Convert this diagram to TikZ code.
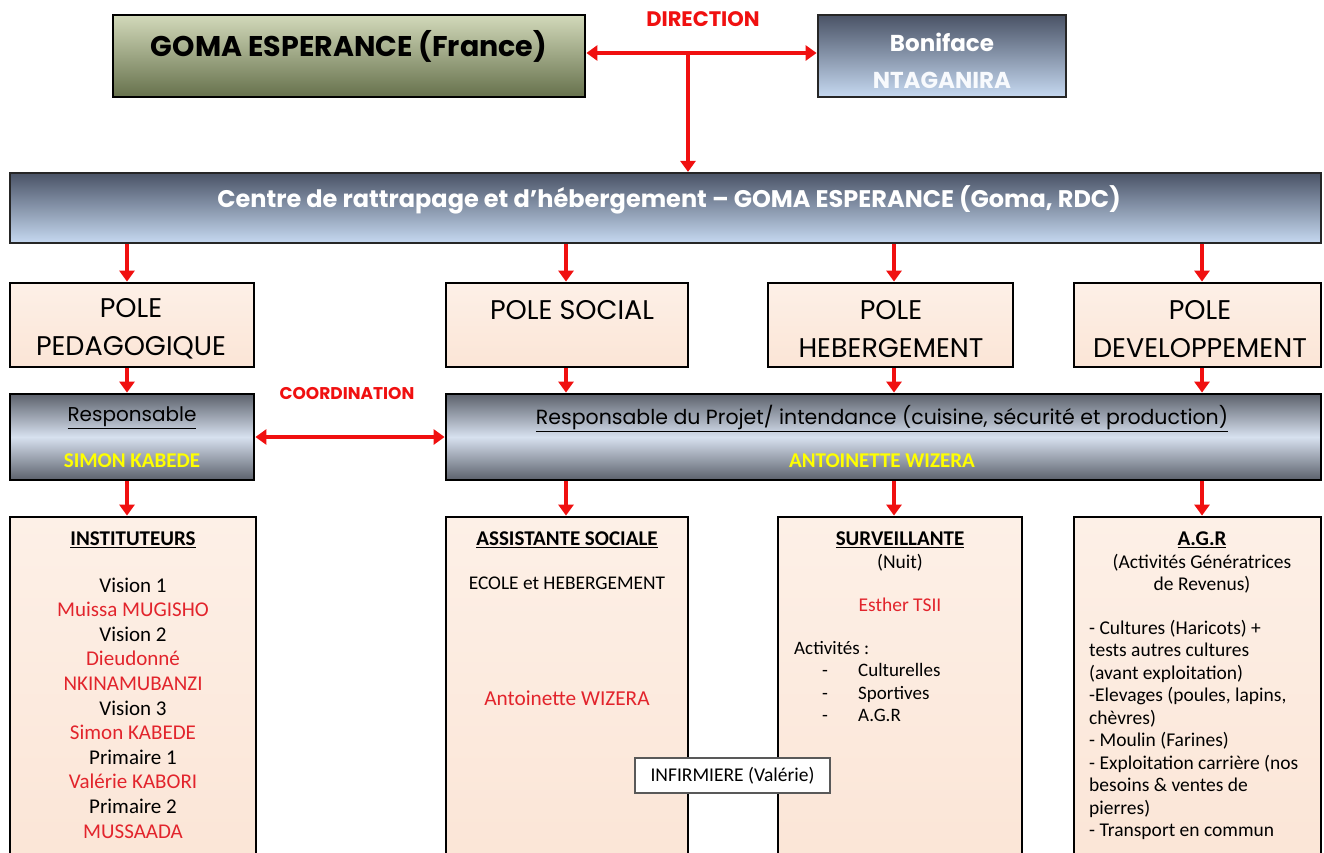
\documentclass[tikz,border=0pt]{standalone}
\usepackage{fontspec}
\setmainfont{Carlito}
\newfontfamily\comic{Poppins}
\usetikzlibrary{arrows.meta}
\definecolor{peach}{HTML}{FBE5D6}
\definecolor{peachtop}{HTML}{FDF0E7}
\definecolor{arrred}{HTML}{F01010}
\definecolor{tred}{HTML}{E2242C}
\definecolor{slate}{HTML}{4A5366}
\definecolor{lblue}{HTML}{C6D9F1}
\definecolor{cylgray}{HTML}{5C616C}
\definecolor{cylmid}{HTML}{D7E1EF}
\definecolor{olivetop}{HTML}{D2D9BA}
\definecolor{olivebot}{HTML}{66714C}
\definecolor{yel}{HTML}{FFFF00}
\begin{document}
\begin{tikzpicture}[x=1pt,y=-1pt,
  box/.style={rectangle,draw=black,line width=2.8pt,inner sep=0pt},
  pch/.style={box,top color=peachtop,bottom color=peach},
  bgrad/.style={box,draw=black!85,top color=slate,bottom color=lblue},
  cyl/.style={box,top color=cylgray,bottom color=cylgray,middle color=cylmid},
  olive/.style={box,top color=olivetop,bottom color=olivebot},
  txt/.style={inner sep=0pt,align=center},
  arr/.style={draw=arrred,line width=3.6pt,-{Triangle[length=11pt,width=15pt]}},
  darr/.style={draw=arrred,line width=3.6pt,{Triangle[length=11pt,width=15pt]}-{Triangle[length=11pt,width=15pt]}},
  pl/.style={txt,font=\comic\fontsize{27}{38}\selectfont},
  body/.style={txt,font=\fontsize{21}{24.6}\selectfont},
  ttl/.style={txt,font=\bfseries\fontsize{21}{24}\selectfont},
]
\clip (0,0) rectangle (1324,852);
\fill[white] (0,0) rectangle (1324,852);

% top row
\node[olive,minimum width=472pt,minimum height=82pt] (gfr) at (349,56) {};
\node[bgrad,minimum width=248pt,minimum height=82pt] (bon) at (942,56) {};
\node[txt,font=\comic\bfseries\fontsize{28.5}{32}\selectfont] (gfrt) at (349,46) {GOMA ESPERANCE (France)};
\node[txt,font=\comic\bfseries\fontsize{23}{37}\selectfont,text=white] (bont) at (942,61) {Boniface\\ \textcolor{white!88!lblue}{NTAGANIRA}};
\node[txt,font=\comic\bfseries\fontsize{21}{24}\selectfont,text=arrred] (dirt) at (703,19) {DIRECTION};

% centre
\node[bgrad,line width=2.2pt,minimum width=1311pt,minimum height=70pt] (centre) at (665.5,208) {};
\node[txt,font=\comic\bfseries\fontsize{24}{28}\selectfont,text=white] (centret) at (669,200) {Centre de rattrapage et d’hébergement – GOMA ESPERANCE (Goma, RDC)};

\coordinate (dj) at (688,53);
\draw[darr] (gfr.east |- dj) -- (bon.west |- dj);
\draw[arr] (dj) -- (centre.north -| dj);

% poles
\node[pch,minimum width=244pt,minimum height=84pt] (ped) at (132,325) {};
\node[pch,minimum width=242pt,minimum height=84pt] (soc) at (567,325) {};
\node[pch,minimum width=245pt,minimum height=84pt] (heb) at (890.5,325) {};
\node[pch,minimum width=247pt,minimum height=84pt] (dev) at (1197.5,325) {};
\node[pl] (pedt) at (131,329) {POLE\\PEDAGOGIQUE};
\node[pl] (soct) at (572,310) {POLE SOCIAL};
\node[pl] (hebt) at (891,329) {POLE\\HEBERGEMENT};
\node[pl] (devt) at (1200,329) {POLE\\DEVELOPPEMENT};

% responsables
\node[cyl,minimum width=244pt,minimum height=86pt] (respL) at (132,437) {};
\node[cyl,minimum width=875pt,minimum height=86pt] (respR) at (883.5,437) {};
\node[txt,font=\comic\fontsize{20}{24}\selectfont] (respLt) at (132,418) {\underline{Responsable}};
\node[txt,font=\bfseries\fontsize{21}{24}\selectfont,text=yel] (respLn) at (132,461) {SIMON KABEDE};
\node[txt,font=\comic\fontsize{20.5}{24}\selectfont] (respRt) at (882,418) {\underline{Responsable du Projet/ intendance (cuisine, sécurité et production)}};
\node[txt,font=\bfseries\fontsize{21}{24}\selectfont,text=yel] (respRn) at (882,461) {ANTOINETTE WIZERA};
\node[txt,font=\comic\bfseries\fontsize{17}{20}\selectfont,text=arrred] (coord) at (347,393) {COORDINATION};
\draw[darr] (respL.east) -- (respR.west |- respL.east);

% bottom boxes
\node[pch,minimum width=246pt,minimum height=353pt] (inst) at (133,693.5) {};
\node[pch,minimum width=242pt,minimum height=353pt] (asst) at (567,693.5) {};
\node[pch,minimum width=244pt,minimum height=353pt] (surv) at (900,693.5) {};
\node[pch,minimum width=247pt,minimum height=353pt] (agr) at (1197.5,693.5) {};

% arrows down
\coordinate (k1) at (127,0);
\coordinate (k2) at (566,0);
\coordinate (k3) at (894,0);
\coordinate (k4) at (1202,0);
\foreach \k/\p/\r/\b in {k1/ped/respL/inst,k2/soc/respR/asst,k3/heb/respR/surv,k4/dev/respR/agr}{
  \draw[arr] (centre.south -| \k) -- (\p.north -| \k);
  \draw[arr] (\p.south -| \k) -- (\r.north -| \k);
  \draw[arr] (\r.south -| \k) -- (\b.north -| \k);
}

% INSTITUTEURS
\node[ttl] (instt) at (133,540) {\underline{INSTITUTEURS}};
\node[body] (instl) at (133,708) {Vision 1\\\textcolor{tred}{Muissa MUGISHO}\\Vision 2\\\textcolor{tred}{Dieudonné}\\\textcolor{tred}{NKINAMUBANZI}\\Vision 3\\\textcolor{tred}{Simon KABEDE}\\Primaire 1\\\textcolor{tred}{Valérie KABORI}\\Primaire 2\\\textcolor{tred}{MUSSAADA}};

% ASSISTANTE SOCIALE
\node[ttl] (asstt) at (567,540) {\underline{ASSISTANTE SOCIALE}};
\node[txt,font=\fontsize{19.4}{22}\selectfont] (asste) at (567,583) {ECOLE et HEBERGEMENT};
\node[txt,font=\fontsize{21.3}{24}\selectfont,text=tred] (asstn) at (567,698) {Antoinette WIZERA};

% SURVEILLANTE
\node[ttl] (survt) at (900,540) {\underline{SURVEILLANTE}};
\node[txt,font=\fontsize{19.5}{22}\selectfont] (survn) at (900,563) {(Nuit)};
\node[txt,font=\fontsize{19.5}{22}\selectfont,text=tred] (surve) at (900,605) {Esther TSII};
\node[txt,align=left,anchor=north west,font=\fontsize{19}{22.4}\selectfont] (surva) at (794,641) {Activités :\\
\hspace*{28pt}\makebox[36pt][l]{-}Culturelles\\
\hspace*{28pt}\makebox[36pt][l]{-}Sportives\\
\hspace*{28pt}\makebox[36pt][l]{-}A.G.R};

% AGR
\node[ttl] (agrt) at (1202,540) {\underline{A.G.R}};
\node[txt,font=\fontsize{19.5}{22.4}\selectfont] (agrs) at (1202,574) {(Activités Génératrices\\de Revenus)};
\node[txt,align=left,anchor=north west,font=\fontsize{19.5}{22.5}\selectfont] (agrl) at (1089,620) {- Cultures (Haricots) +\\tests autres cultures\\(avant exploitation)\\-Elevages (poules, lapins,\\chèvres)\\- Moulin (Farines)\\- Exploitation carrière (nos\\besoins \& ventes de\\pierres)\\- Transport en commun};

% INFIRMIERE
\node[rectangle,draw=black!65,line width=1.2pt,fill=white,minimum width=195pt,minimum height=35pt,inner sep=0pt,font=\fontsize{19.5}{22}\selectfont] (inf) at (732.5,775.5) {INFIRMIERE (Valérie)};
\end{tikzpicture}
\end{document}
